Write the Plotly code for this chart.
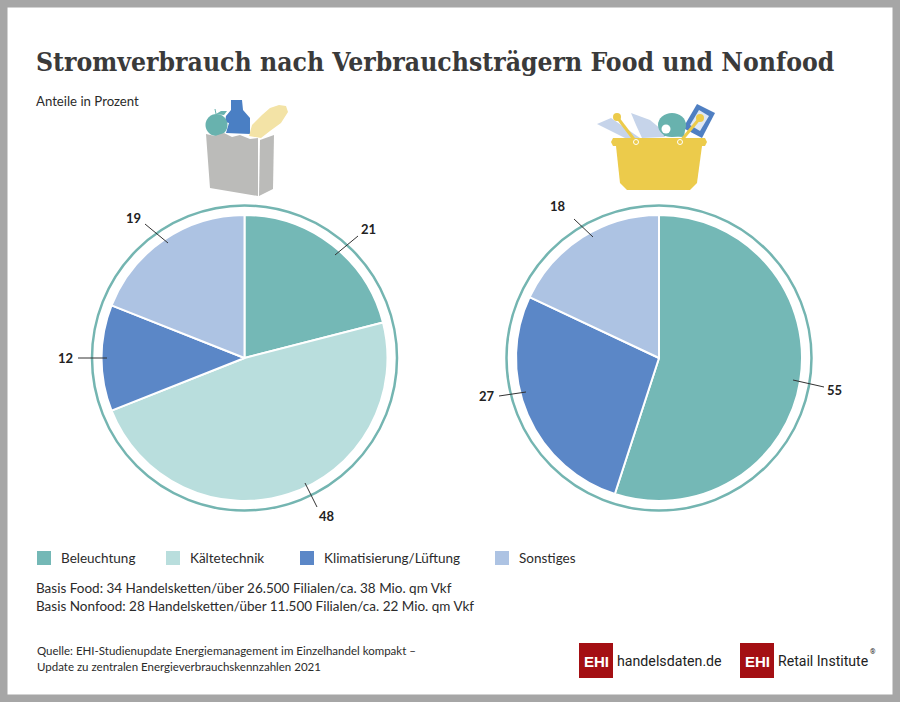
import plotly.graph_objects as go

# Shares in percent
categories = ["Beleuchtung", "Kältetechnik", "Klimatisierung/Lüftung", "Sonstiges"]
food_labels = ["Beleuchtung", "Kältetechnik", "Klimatisierung/Lüftung", "Sonstiges"]
food_values = [21, 48, 12, 19]
nonfood_labels = ["Beleuchtung", "Klimatisierung/Lüftung", "Sonstiges"]
nonfood_values = [55, 27, 18]

colors = {
    "Beleuchtung": "#74b8b6",
    "Kältetechnik": "#b9dedd",
    "Klimatisierung/Lüftung": "#5b87c7",
    "Sonstiges": "#adc3e3",
}

W, H = 900, 702
TEXT = "#2b2b2b"
FONT = "Lato"
RING = "#74b5b1"


def px(x):
    return x / W


def py(y):
    return 1 - y / H


def poly(points, fill, close=True):
    # points are pixel positions of the picture
    d = "M" + " L".join(f"{px(x):.5f},{py(y):.5f}" for x, y in points)
    if close:
        d += " Z"
    return dict(type="path", xref="paper", yref="paper", path=d,
                fillcolor=fill, line=dict(width=0), layer="above")


def line(x0, y0, x1, y1, color, width=1.0):
    return dict(type="line", xref="paper", yref="paper", x0=px(x0), y0=py(y0),
                x1=px(x1), y1=py(y1), line=dict(color=color, width=width), layer="above")


def circle(cx, cy, rx, color, ry=None, fill=None, width=0, layer="above"):
    ry = rx if ry is None else ry
    return dict(type="circle", xref="paper", yref="paper", x0=px(cx - rx), x1=px(cx + rx),
                y0=py(cy + ry), y1=py(cy - ry), fillcolor=fill,
                line=dict(color=color, width=width), layer=layer)


def rect(x0, y0, x1, y1, fill):
    return dict(type="rect", xref="paper", yref="paper", x0=px(x0), x1=px(x1),
                y0=py(y1), y1=py(y0), fillcolor=fill, line=dict(width=0), layer="above")


def label(x, y, text, size=12, color=TEXT, anchor="left", family=FONT, bold=False):
    t = f"<b>{text}</b>" if bold else text
    # annotation boxes have about 2px padding
    if anchor == "left":
        x -= 2
    return dict(x=px(x), y=py(y), xref="paper", yref="paper", text=t, showarrow=False,
                xanchor=anchor, yanchor="middle", align="left",
                font=dict(size=size, color=color, family=family))


fig = go.Figure()

fig.add_trace(go.Pie(labels=food_labels, values=food_values, sort=False, direction="clockwise",
                     rotation=0, textinfo="none", hoverinfo="label+value",
                     marker=dict(colors=[colors[c] for c in food_labels],
                                 line=dict(color="white", width=2)),
                     domain=dict(x=[px(244.5 - 143), px(244.5 + 143)], y=[py(358 + 143), py(358 - 143)])))
fig.add_trace(go.Pie(labels=nonfood_labels, values=nonfood_values, sort=False, direction="clockwise",
                     rotation=0, textinfo="none", hoverinfo="label+value",
                     marker=dict(colors=[colors[c] for c in nonfood_labels],
                                 line=dict(color="white", width=2)),
                     domain=dict(x=[px(659 - 143), px(659 + 143)], y=[py(358 + 143), py(358 - 143)])))

shapes = []

# outer frame
shapes.append(dict(type="rect", xref="paper", yref="paper", x0=0, x1=1, y0=0, y1=1,
                   line=dict(color="#a6a6a6", width=15), fillcolor="rgba(0,0,0,0)", layer="below"))

# rings around the pies
shapes.append(circle(244.5, 358, 152.5, RING, width=2.5))
shapes.append(circle(659, 358, 152.5, RING, width=2.5))

# leader lines and their numbers
leaders = [
    (335, 255, 358, 236, 368, 229, "21"),
    (305, 483, 317, 507, 327, 516, "48"),
    (78, 358, 107, 358, 65, 358, "12"),
    (145, 224, 168, 243, 133, 218, "19"),
    (574, 219, 593, 237, 558, 206, "18"),
    (793, 380, 824, 387, 834, 390, "55"),
    (499, 396, 526, 392, 487, 396, "27"),
]
annotations = []
for x0, y0, x1, y1, tx, ty, txt in leaders:
    shapes.append(line(x0, y0, x1, y1, "#333333", 1))
    annotations.append(label(tx, ty, txt, size=13, color="#222222", anchor="center", bold=True))

# legend, drawn by hand because the gaps are uneven
legend_x = [37, 166, 300, 495]
for x, c in zip(legend_x, categories):
    shapes.append(rect(x, 551, x + 14, 565, colors[c]))
    annotations.append(label(x + 24, 558, c, size=13.5))

# shopping bag content
shapes.append(poly([(231, 100), (242, 100), (243, 110), (250, 118), (250, 134), (226, 133),
                    (229, 123), (225, 122), (226, 116), (231, 110)], "#4a7fc4"))
shapes.append(circle(216.5, 125, 11, "#68b2ae", fill="#68b2ae"))
shapes.append(poly([(216, 114), (221, 111), (227, 111), (224, 115)], "#68b2ae"))
shapes.append(line(216, 114, 215, 109, "#68b2ae", 1))
shapes.append(poly([(249, 136), (252, 125), (262, 115), (270, 108), (279, 105), (286, 106), (288, 112),
                    (281, 123), (270, 131), (261, 138)], "#f3e3a6"))

# shopping bag
GREY = "#bbbbb9"
shapes.append(poly([(206, 134), (215, 136), (224, 133), (232, 137), (240, 135), (250, 139), (258, 138),
                    (258, 196), (210, 188)], GREY))
shapes.append(poly([(260, 140), (274, 135), (273, 189), (259, 196)], GREY))

# basket content
LIGHT = "#c6d4ea"
shapes.append(poly([(597, 124), (611, 118), (640, 138), (625, 138)], LIGHT))
shapes.append(poly([(631, 113), (650, 120), (662, 130), (665, 137), (642, 138), (636, 125)], LIGHT))
shapes.append(poly([(683, 128), (697, 104), (715, 113), (702, 138)], "#4f7fc2"))
shapes.append(poly([(690, 125), (699, 110), (709, 116), (700, 131)], "#dfe8f4"))
shapes.append(circle(672, 125, 14, "#68b2ae", ry=12, fill="#68b2ae"))
shapes.append(poly([(660, 122), (664, 116), (680, 116), (686, 124), (684, 137), (664, 136)], "#68b2ae"))
shapes.append(circle(666, 129, 4.5, "white", fill="white"))

# basket
YELLOW = "#eccb4b"
shapes.append(line(617, 117, 636, 142, YELLOW, 3))
shapes.append(line(700, 118, 680, 142, YELLOW, 3))
shapes.append(circle(617, 117, 4, YELLOW, fill=YELLOW))
shapes.append(circle(700, 118, 4, YELLOW, fill=YELLOW))
shapes.append(poly([(613, 138), (705, 138), (707, 142), (705, 146), (613, 146), (611, 142)], YELLOW))
shapes.append(poly([(616, 146), (702, 146), (697, 183), (690, 190), (627, 190), (620, 183)], YELLOW))
shapes.append(circle(636, 142, 2.5, "white", fill=YELLOW, width=1))
shapes.append(circle(680, 142, 2.5, "white", fill=YELLOW, width=1))

# logos
RED = "#a40f13"
for x0 in (579, 740):
    shapes.append(rect(x0, 643, x0 + 34, 678, RED))
    annotations.append(label(x0 + 17, 661, "EHI", size=15, color="white", anchor="center",
                             family="Liberation Sans", bold=True))
annotations.append(label(617, 661, "handelsdaten.de", size=14.2, color="#222222", family="Roboto"))
annotations.append(label(778, 661, "Retail Institute", size=14.1, color="#222222", family="Roboto"))
annotations.append(label(873, 652, "®", size=7, color="#222222", anchor="center", family="Roboto"))

# texts
annotations.append(label(36, 61, "Stromverbrauch nach Verbrauchsträgern Food und Nonfood",
                         size=26.3, color="#3a3a3a", family="DejaVu Serif Condensed", bold=True))
annotations.append(label(36, 101, "Anteile in Prozent", size=13.2))
annotations.append(label(36, 588, "Basis Food: 34 Handelsketten/über 26.500 Filialen/ca. 38 Mio. qm Vkf", size=13.5))
annotations.append(label(36, 606, "Basis Nonfood: 28 Handelsketten/über 11.500 Filialen/ca. 22 Mio. qm Vkf", size=13.5))
annotations.append(label(37, 650, "Quelle: EHI-Studienupdate Energiemanagement im Einzelhandel kompakt –", size=11.5))
annotations.append(label(37, 666, "Update zu zentralen Energieverbrauchskennzahlen 2021", size=11.5))

fig.update_layout(
    width=W, height=H,
    margin=dict(l=0, r=0, t=0, b=0),
    paper_bgcolor="white",
    font=dict(family=FONT, color=TEXT),
    showlegend=False,
    shapes=shapes,
    annotations=annotations,
)

fig.write_html("out.html", config=dict(displayModeBar=False),
               post_script="document.body.style.margin='0';")
